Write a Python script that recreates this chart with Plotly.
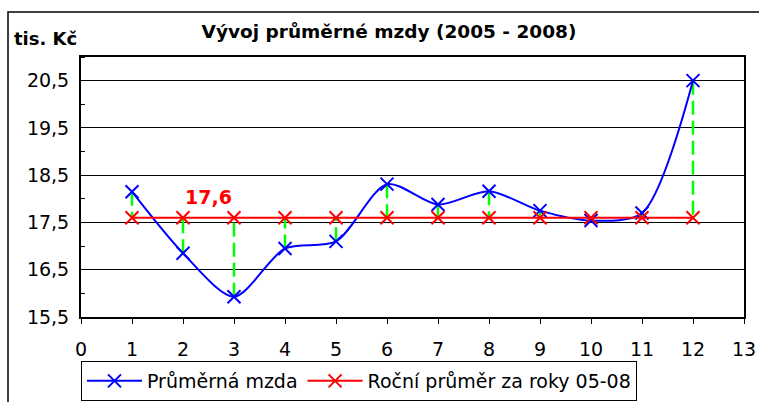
import plotly.graph_objects as go

months = [1, 2, 3, 4, 5, 6, 7, 8, 9, 10, 11, 12]
avg_wage = [18.15, 16.85, 15.93, 16.95, 17.1, 18.31, 17.88, 18.16, 17.75, 17.54, 17.7, 20.5]
mean_value = 17.6
mean_series = [mean_value] * len(months)

FONT = "DejaVu Sans"
W, H = 759, 402
L, R, T, B = 81, 15, 57, 85
pw, ph = W - L - R, H - T - B

fig = go.Figure()

# green dashed deviation lines
gx, gy = [], []
for m, v in zip(months, avg_wage):
    gx += [m, m, None]
    gy += [v, mean_value, None]
fig.add_trace(go.Scatter(x=gx, y=gy, mode="lines", showlegend=False, hoverinfo="skip",
                         line=dict(color="#00ff00", width=2.5, dash="14px,6px")))

fig.add_trace(go.Scatter(x=months, y=avg_wage, name="Průměrná mzda", mode="lines+markers",
                         line=dict(color="#0000ff", width=2, shape="spline", smoothing=0.8),
                         marker=dict(symbol="x-thin", size=13, line=dict(color="#0000ff", width=2))))
fig.add_trace(go.Scatter(x=months, y=mean_series, name="Roční průměr za roky 05-08", mode="lines+markers",
                         line=dict(color="#ff0000", width=2),
                         marker=dict(symbol="x-thin", size=13, line=dict(color="#ff0000", width=2))))

fig.add_annotation(x=2.5, y=18.03, text="<b>" + f"{mean_value:.1f}".replace(".", ",") + "</b>",
                   showarrow=False, font=dict(family=FONT, size=19, color="#ff0000"))

# outer chart border
fig.add_shape(type="rect", xref="paper", yref="paper",
              x0=(8 - L) / pw, x1=(W + 10 - L) / pw,
              y0=-(H + 10 - (H - B)) / ph, y1=1 + (T - 12) / ph,
              line=dict(color="black", width=1.5), layer="below")

fig.update_layout(
    width=W, height=H,
    margin=dict(l=L, r=R, t=T, b=B, autoexpand=False),
    paper_bgcolor="white", plot_bgcolor="white",
    separators=", ",
    font=dict(family=FONT, size=18, color="black"),
    title=dict(text="<b>Vývoj průměrné mzdy (2005 - 2008)</b>", x=389 / W, xanchor="center",
               y=1 - 32 / H, yanchor="middle", font=dict(family=FONT, size=18.5)),
    showlegend=True,
    legend=dict(orientation="h", x=0, xanchor="left", y=-(361 - (H - B)) / ph, yanchor="top",
                bordercolor="black", borderwidth=1, bgcolor="white",
                font=dict(family=FONT, size=19), itemwidth=55, tracegroupgap=0),
    xaxis=dict(range=[0, 13], tick0=0, dtick=1, showgrid=False, zeroline=False,
               showline=True, linecolor="black", linewidth=2, mirror=True,
               ticks="outside", ticklen=5, tickcolor="black", tickwidth=1,
               ticklabelstandoff=9,
               tickfont=dict(family=FONT, size=19), fixedrange=True),
    yaxis=dict(range=[15.5, 21], tick0=15.5, dtick=1, tickformat=".1f",
               showgrid=True, gridcolor="black", gridwidth=1, zeroline=False,
               showline=True, linecolor="black", linewidth=2, mirror=True,
               ticks="", tickfont=dict(family=FONT, size=19), ticklabelstandoff=6,
               minor=dict(tick0=16, dtick=1, ticks="inside", ticklen=4, tickcolor="black", showgrid=False),
               fixedrange=True),
)

fig.add_annotation(x=(12 - L) / pw, y=1 + (T - 38) / ph, xref="paper", yref="paper",
                   xanchor="left", yanchor="middle",
                   text="<b>tis. Kč</b>", showarrow=False, font=dict(family=FONT, size=18))

fig.write_html("out.html", config={"displayModeBar": False},
               post_script="document.body.style.margin='0px';document.body.style.overflow='hidden';")
